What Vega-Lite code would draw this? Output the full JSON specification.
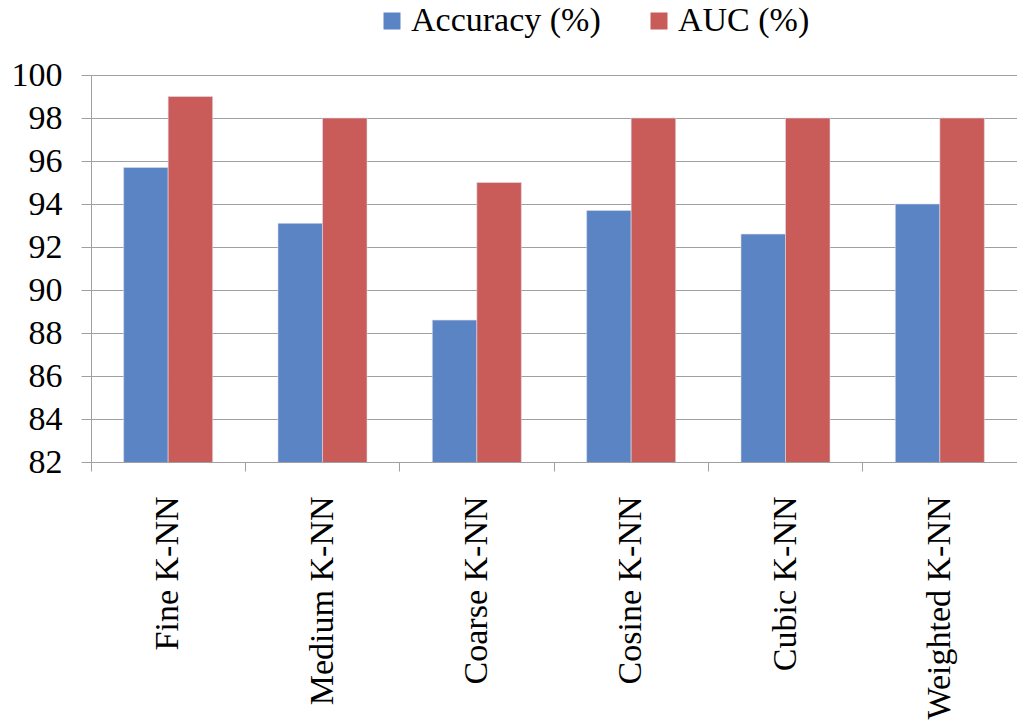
{
  "$schema": "https://vega.github.io/schema/vega-lite/v6.json",
  "width": 926,
  "height": 387,
  "autosize": {"type": "none"},
  "padding": {"left": 91, "top": 75, "right": 0, "bottom": 264},
  "background": "white",
  "data": {
    "values": [
      {"model": "Fine K-NN", "metric": "Accuracy (%)", "value": 95.7},
      {"model": "Fine K-NN", "metric": "AUC (%)", "value": 99},
      {"model": "Medium K-NN", "metric": "Accuracy (%)", "value": 93.1},
      {"model": "Medium K-NN", "metric": "AUC (%)", "value": 98},
      {"model": "Coarse K-NN", "metric": "Accuracy (%)", "value": 88.6},
      {"model": "Coarse K-NN", "metric": "AUC (%)", "value": 95},
      {"model": "Cosine K-NN", "metric": "Accuracy (%)", "value": 93.7},
      {"model": "Cosine K-NN", "metric": "AUC (%)", "value": 98},
      {"model": "Cubic K-NN", "metric": "Accuracy (%)", "value": 92.6},
      {"model": "Cubic K-NN", "metric": "AUC (%)", "value": 98},
      {"model": "Weighted K-NN", "metric": "Accuracy (%)", "value": 94.0},
      {"model": "Weighted K-NN", "metric": "AUC (%)", "value": 98}
    ]
  },
  "mark": {"type": "bar", "stroke": "#dcdcec", "strokeWidth": 0.6, "clip": true},
  "encoding": {
    "x": {
      "field": "model",
      "type": "nominal",
      "sort": null,
      "scale": {"paddingInner": 0, "paddingOuter": 0},
      "axis": {
        "title": null,
        "bandPosition": 0,
        "labelAngle": -90,
        "labelAlign": "right",
        "labelBaseline": "middle",
        "labelPadding": 25,
        "labelLimit": 400,
        "labelFont": "Liberation Serif",
        "tickSize": 9,
        "grid": false,
        "encode": {"labels": {"update": {"font": {"value": "Liberation Serif"}}}}
      }
    },
    "xOffset": {
      "field": "metric",
      "type": "nominal",
      "sort": ["Accuracy (%)", "AUC (%)"],
      "scale": {"paddingInner": 0, "paddingOuter": 0.734}
    },
    "y": {
      "field": "value",
      "type": "quantitative",
      "scale": {"domain": [82, 100], "nice": false, "zero": false},
      "axis": {
        "title": null,
        "values": [82, 84, 86, 88, 90, 92, 94, 96, 98, 100],
        "labelPadding": 19,
        "labelFont": "Liberation Serif",
        "tickSize": 10,
        "grid": true,
        "encode": {"labels": {"update": {"font": {"value": "Liberation Serif"}}}}
      }
    },
    "color": {
      "field": "metric",
      "type": "nominal",
      "sort": ["Accuracy (%)", "AUC (%)"],
      "scale": {"domain": ["Accuracy (%)", "AUC (%)"], "range": ["#5b84c4", "#c95c58"]},
      "legend": {
        "title": null,
        "orient": "none",
        "direction": "horizontal",
        "legendX": 284,
        "legendY": -71,
        "padding": 0,
        "symbolType": "square",
        "symbolSize": 289,
        "symbolStrokeWidth": 0,
        "labelFont": "Liberation Serif",
        "labelFontSize": 34,
        "labelColor": "black",
        "labelLimit": 400,
        "labelOffset": 2,
        "columnPadding": 41
      }
    }
  },
  "config": {
    "view": {"stroke": null},
    "font": "Liberation Serif",
    "axis": {
      "labelFont": "Liberation Serif",
      "labelFontSize": 34,
      "labelColor": "black",
      "tickColor": "#a0a0a0",
      "domainColor": "#a0a0a0",
      "gridColor": "#a0a0a0"
    }
  }
}
